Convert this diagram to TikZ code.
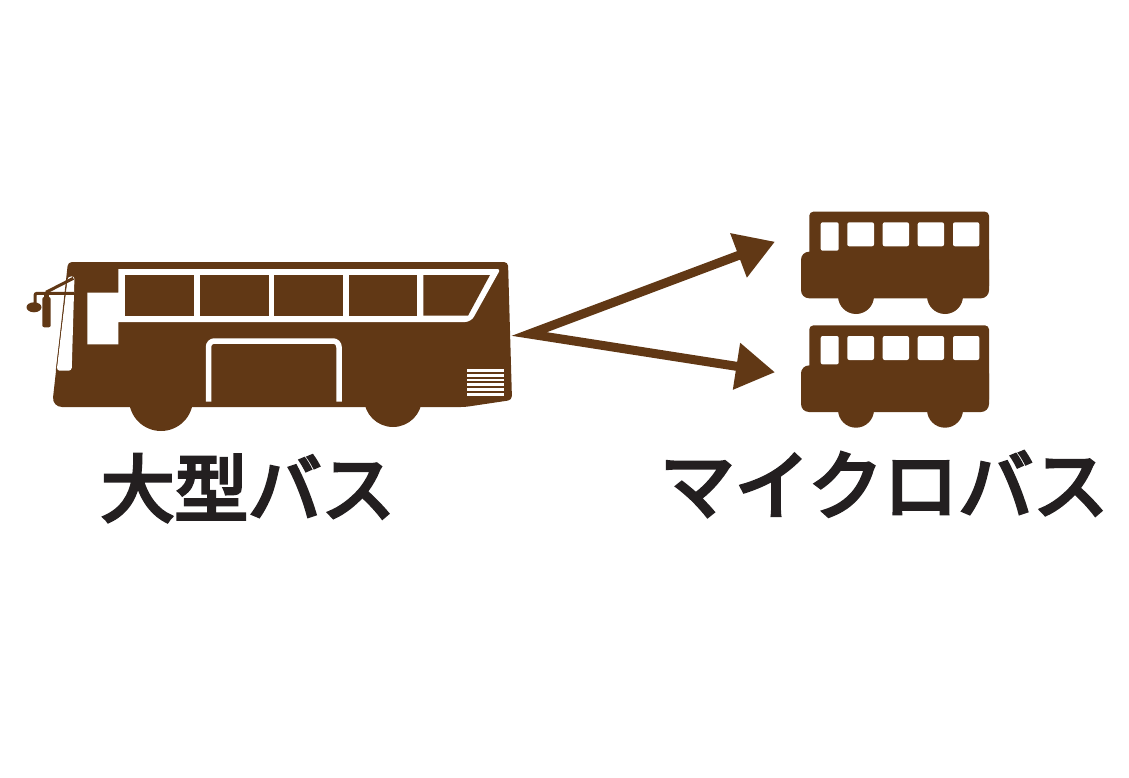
\documentclass[tikz,border=0pt]{standalone}
\usepackage{fontspec}
\newfontfamily\cjk[FakeBold=4.5]{Noto Sans CJK JP}
\usetikzlibrary{arrows.meta}
\definecolor{busbrown}{RGB}{97,56,21}
\definecolor{labelblack}{RGB}{35,31,32}
\tikzset{
	busfill/.style={fill=busbrown,draw=none},
	glass/.style={fill=white,draw=none},
	forkarrow/.style={draw=busbrown,line width=9pt,line join=miter,miter limit=10,
		{Triangle[length=39pt,width=45pt]}-{Triangle[length=39pt,width=45pt]}},
	buslabel/.style={font=\cjk\fontsize{75}{75}\selectfont,text=labelblack,inner sep=0pt},
}
\begin{document}
\begin{tikzpicture}[x=1pt,y=-1pt]
	\useasboundingbox (0,0) rectangle (1129,778);
	% large bus
	\fill[busfill] (161,399) circle (32);
	\fill[busfill] (393,398) circle (29);
	\fill[busfill,rounded corners=4] (68,262) -- (508,262) -- (512,400) -- (465,407) [rounded corners=10] -- (52,407) [rounded corners=4] -- cycle;
	\fill[glass,rounded corners=3] (67.5,277) -- (74.5,276) -- (71.7,370.7) -- (56.7,370.7) -- cycle;
	\draw[busbrown,line width=0.5pt] (67.5,277) -- (56,370.7);
	\fill[glass] (87.3,292.7) -- (118.3,292.7) -- (118.3,269) [rounded corners=3] -- (500.5,269) [rounded corners=6] -- (471,322) [sharp corners] -- (118.3,322) -- (118.3,344.3) -- (87.3,344.3) -- cycle;
	\foreach \xa/\xb in {125/194,200/269,274/343,349/417}
		\fill[busfill] (\xa,275) rectangle (\xb,315.7);
	\fill[busfill] (423.3,275) -- (490,275) -- (468,315.7) -- (423.3,315.7) -- cycle;
	\draw[white,line width=5.5pt,rounded corners=6] (208.5,401.7) -- (208.5,341) -- (339,341) -- (339,401.7);
	\foreach \y in {370.3,375.2,380,384.8,389.6,394.4}
		\fill[white] (467.3,\y-1.4) rectangle (503.5,\y+1.4);
	% mirror
	\draw[busbrown,line width=3pt] (73.3,278.3) -- (46,292.3);
	\draw[busbrown,line width=3pt,rounded corners=2] (74,293.3) -- (35,293.3) -- (35,305);
	\fill[busbrown] (34,307.3) ellipse (7.5 and 5);
	\fill[busbrown,rounded corners=2] (42.3,297) rectangle (50.7,327.3);
	\fill[busbrown] (44,293) rectangle (49,298);
	% micro buses
	\foreach \dy in {0,113.7}{
		\fill[busfill] (856,296+\dy) circle (18);
		\fill[busfill] (945,296+\dy) circle (18);
		\fill[busfill,rounded corners=4] (809.3,211.7+\dy) rectangle (989,290+\dy);
		\fill[busfill,rounded corners=8] (801,251.7+\dy) rectangle (989,298.3+\dy);
		\fill[glass,rounded corners=2] (820.7,222.3+\dy) rectangle (838.7,250.7+\dy);
		\foreach \xa/\xb in {847.3/874,882.7/909,917.7/944,953/979.3}
			\fill[glass,rounded corners=2] (\xa,222.3+\dy) rectangle (\xb,246.3+\dy);
	}
	% arrows
	\coordinate (fork) at (529.3,334);
	\coordinate (tipA) at (775,241.7);
	\coordinate (tipB) at (775,372.3);
	\draw[forkarrow] (tipA) -- (fork) -- (tipB);
	% labels
	\node[buslabel,font=\cjk\fontsize{73.5}{75}\selectfont] (large) at (248,488) {大型バス};
	\node[buslabel] (micro) at (884,484) {マイクロバス};
\end{tikzpicture}
\end{document}
